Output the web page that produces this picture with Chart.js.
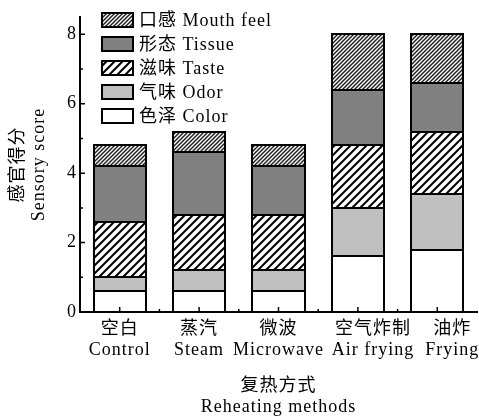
<!DOCTYPE html>
<html>
<head>
<meta charset="utf-8">
<script src="https://cdn.jsdelivr.net/npm/chart.js@4"></script>
<style>
  html, body { margin: 0; padding: 0; background: #fff; }
  #wrap { width: 479px; height: 417px; }
</style>
</head>
<body>
<div id="wrap"><canvas id="c"></canvas></div>
<script>
// Reheating methods (category axis, two-line labels)
const methodsZh = ['空白', '蒸汽', '微波', '空气炸制', '油炸'];
const methodsEn = ['Control', 'Steam', 'Microwave', 'Air frying', 'Frying'];

// Sensory attribute scores, stacked bottom to top
const colorScore     = [0.6, 0.6, 0.6, 1.6, 1.8];
const odorScore      = [0.4, 0.6, 0.6, 1.4, 1.6];
const tasteScore     = [1.6, 1.6, 1.6, 1.8, 1.8];
const tissueScore    = [1.6, 1.8, 1.4, 1.6, 1.4];
const mouthfeelScore = [0.6, 0.6, 0.6, 1.6, 1.4];

// Attribute names
const attrZh = ['色泽', '气味', '滋味', '形态', '口感'];
const attrEn = ['Color', 'Odor', 'Taste', 'Tissue', 'Mouth feel'];

// Axis ticks
const yTicks = [0, 2, 4, 6, 8];
const yMinorTicks = [1, 3, 5, 7];

const FONT = "'Liberation Serif', 'Noto Sans CJK SC', serif";
const canvas = document.getElementById('c');
const ctx = canvas.getContext('2d');

// Diagonal "/" hatch fill
function hatch(step, lw, color) {
  const t = document.createElement('canvas');
  t.width = step; t.height = step;
  const g = t.getContext('2d');
  g.fillStyle = '#fff';
  g.fillRect(0, 0, step, step);
  g.strokeStyle = color;
  g.lineWidth = lw;
  g.beginPath();
  g.moveTo(-1, step + 1); g.lineTo(step + 1, -1);
  g.moveTo(-1, 1); g.lineTo(1, -1);
  g.moveTo(step - 1, step + 1); g.lineTo(step + 1, step - 1);
  g.stroke();
  return ctx.createPattern(t, 'repeat');
}

const fills = [
  '#ffffff',
  '#c0c0c0',
  hatch(8, 2, '#000'),
  '#808080',
  hatch(4, 1.5, '#222')
];
const seriesData = [colorScore, odorScore, tasteScore, tissueScore, mouthfeelScore];

const datasets = seriesData.map((d, i) => ({
  label: attrZh[i] + ' ' + attrEn[i],
  data: d,
  backgroundColor: fills[i],
  borderWidth: 0,
  categoryPercentage: 1.0,
  barPercentage: 0.656
}));

// Slightly widened text spacing
const spacingPlugin = {
  id: 'spacing',
  beforeUpdate(chart) { chart.ctx.letterSpacing = '1px'; },
  beforeDraw(chart) { chart.ctx.letterSpacing = '1px'; }
};

// Crisp black outline around every stacked segment
const segmentOutlines = {
  id: 'segmentOutlines',
  afterDatasetsDraw(chart) {
    const c = chart.ctx;
    c.save();
    c.strokeStyle = '#000';
    c.lineWidth = 2;
    chart.data.datasets.forEach((_, di) => {
      chart.getDatasetMeta(di).data.forEach(bar => {
        const p = bar.getProps(['x', 'y', 'base', 'width'], true);
        const l = Math.round(p.x - p.width / 2);
        const r = Math.round(p.x + p.width / 2);
        const t = Math.round(Math.min(p.y, p.base));
        const b = Math.round(Math.max(p.y, p.base));
        c.strokeRect(l, t, r - l, b - t);
      });
    });
    c.restore();
  }
};

// Inward tick marks on both axes
const innerTicks = {
  id: 'innerTicks',
  afterDatasetsDraw(chart) {
    const c = chart.ctx;
    const x = chart.scales.x, y = chart.scales.y;
    const left = chart.chartArea.left, bottom = chart.chartArea.bottom;
    c.save();
    c.strokeStyle = '#000';
    c.lineWidth = 1.5;
    c.beginPath();
    yTicks.forEach(v => { const p = y.getPixelForValue(v); c.moveTo(left, p); c.lineTo(left + 5, p); });
    yMinorTicks.forEach(v => { const p = y.getPixelForValue(v); c.moveTo(left, p); c.lineTo(left + 3, p); });
    methodsEn.forEach((_, i) => {
      const p = x.getPixelForValue(i);
      c.moveTo(p, bottom); c.lineTo(p, bottom - 5);
      if (i < methodsEn.length - 1) {
        const b = (p + x.getPixelForValue(i + 1)) / 2;
        c.moveTo(b, bottom); c.lineTo(b, bottom - 3);
      }
    });
    c.stroke();
    c.restore();
  }
};

// Two-line category labels; the last two are nudged right so they do not collide
const categoryLabels = {
  id: 'categoryLabels',
  afterDraw(chart) {
    const c = chart.ctx;
    const x = chart.scales.x;
    const bottom = chart.chartArea.bottom;
    const nudge = [0, 0, 0, 15, 15];
    c.save();
    c.letterSpacing = '1px';
    c.font = '18px ' + FONT;
    c.fillStyle = '#000';
    c.textAlign = 'center';
    c.textBaseline = 'middle';
    methodsZh.forEach((zh, i) => {
      const px = x.getPixelForValue(i) + nudge[i];
      c.fillText(zh, px, bottom + 17);
      c.fillText(methodsEn[i], px, bottom + 38.5);
    });
    c.restore();
  }
};

// Legend drawn inside the plot, top attribute first
const innerLegend = {
  id: 'innerLegend',
  afterDraw(chart) {
    const c = chart.ctx;
    c.save();
    c.letterSpacing = '1px';
    c.font = '18px ' + FONT;
    c.textBaseline = 'middle';
    const order = [4, 3, 2, 1, 0];
    order.forEach((di, row) => {
      const ds = chart.data.datasets[di];
      const cy = Math.round(19.5 + row * 24.2);
      c.fillStyle = ds.backgroundColor;
      c.fillRect(102, cy - 7, 31, 14);
      c.strokeStyle = '#000';
      c.lineWidth = 2;
      c.strokeRect(102, cy - 7, 31, 14);
      c.fillStyle = '#000';
      c.fillText(ds.label, 139, cy + 1);
    });
    c.restore();
  }
};

new Chart(canvas, {
  type: 'bar',
  data: {
    labels: methodsZh.map((z, i) => [z, methodsEn[i]]),
    datasets
  },
  options: {
    responsive: true,
    maintainAspectRatio: false,
    animation: false,
    layout: { padding: { top: 17, right: 2, left: 0, bottom: 0 } },
    plugins: {
      legend: { display: false },
      tooltip: { enabled: false }
    },
    scales: {
      x: {
        stacked: true,
        grid: { display: true, drawOnChartArea: false, drawTicks: false, color: 'rgba(0,0,0,0)' },
        border: { display: true, color: '#000', width: 2 },
        ticks: { display: false },
        title: {
          display: true,
          text: ['复热方式', 'Reheating methods'],
          color: '#000',
          font: { family: FONT, size: 18, lineHeight: 1.2 },
          padding: { top: 0, bottom: -1.5 }
        },
        afterFit(scale) { scale.height = 105; }
      },
      y: {
        stacked: true,
        min: 0,
        max: 8.5,
        afterBuildTicks(scale) { scale.ticks = yTicks.map(v => ({ value: v })); },
        grid: { display: true, drawOnChartArea: false, drawTicks: false, color: 'rgba(0,0,0,0)' },
        border: { display: true, color: '#000', width: 2 },
        ticks: {
          color: '#000',
          font: { family: FONT, size: 18 },
          padding: 3
        },
        title: {
          display: true,
          text: ['感官得分', 'Sensory score'],
          color: '#000',
          font: { family: FONT, size: 18, lineHeight: 1.2 },
          padding: { top: 7, bottom: 0 }
        },
        afterFit(scale) { scale.width = 80; }
      }
    }
  },
  plugins: [spacingPlugin, segmentOutlines, innerTicks, categoryLabels, innerLegend]
});
</script>
</body>
</html>
